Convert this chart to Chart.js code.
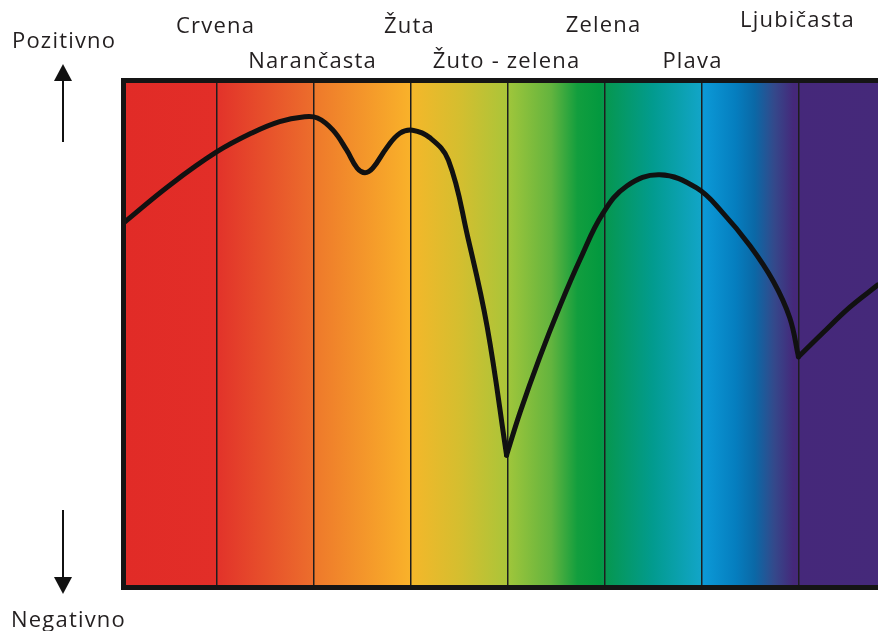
<!DOCTYPE html>
<html>
<head>
<meta charset="utf-8">
<script src="https://cdn.jsdelivr.net/npm/chart.js@4.4.1/dist/chart.umd.min.js"></script>
<style>
html,body{margin:0;padding:0;background:#fff;}
canvas{display:block;}
</style>
</head>
<body>
<canvas id="spectrum" width="878" height="631"></canvas>
<script>
// nazivi boja - stoje iznad granica pojaseva
const colorNames = ["Crvena","Narančasta","Žuta","Žuto - zelena","Zelena","Plava","Ljubičasta"];
const bandEdges = [1,2,3,4,5,6,7];
const sideLabels = ["Pozitivno","Negativno"];

// krivulja u tri dijela (oštri minimumi na granicama)
const curveA = [
  {x:0.04,y:71.9},{x:0.52,y:79.4},{x:1.0,y:85.9},{x:1.38,y:89.8},{x:1.65,y:91.9},
  {x:1.89,y:92.8},{x:2.04,y:92.6},{x:2.2,y:90.2},{x:2.34,y:86.3},{x:2.45,y:82.7},
  {x:2.53,y:81.8},{x:2.61,y:82.7},{x:2.76,y:86.9},{x:2.89,y:89.6},{x:3.02,y:90.2},
  {x:3.2,y:88.7},{x:3.39,y:84.3},{x:3.59,y:69.1},{x:3.79,y:51.4},{x:3.99,y:26.1}
];
const curveB = [
  {x:3.99,y:26.1},{x:4.13,y:34.6},{x:4.33,y:45.3},{x:4.54,y:55.5},{x:4.75,y:64.8},
  {x:4.98,y:73.7},{x:5.23,y:79.2},{x:5.57,y:81.4},{x:5.95,y:78.8},{x:6.22,y:73.9},
  {x:6.5,y:67.4},{x:6.74,y:60.4},{x:6.91,y:53.2},{x:7.0,y:45.5}
];
const curveC = [
  {x:7.0,y:45.5},{x:7.25,y:50.2},{x:7.53,y:55.3},{x:7.82,y:59.7}
];

// boje pozadine (x, boja)
const gradStops = [
  [0.04,"#e12b27"],[1.0,"#e22e28"],[1.0,"#e2322a"],[2.0,"#ec6e2c"],
  [2.0,"#ee782b"],[3.0,"#f9b22a"],[3.0,"#f5b72a"],[3.5,"#d5be2f"],[4.0,"#aac539"],
  [4.0,"#a0c63b"],[4.45,"#63b43e"],[4.72,"#129e3e"],[4.95,"#03993f"],
  [5.0,"#06974e"],[5.5,"#029b8f"],[6.0,"#12a5c8"],
  [6.0,"#0c9bd8"],[6.35,"#057ebf"],[6.55,"#0b68a6"],[6.75,"#34498b"],[6.95,"#45287a"],[7.82,"#45297a"]
];

const textColor = "#231f20";
const FONT = "22px 'Open Sans'";

function drawArrow(ctx, x, y1, y2){
  // y1 = kraj repa, y2 = vrh strelice
  const dir = y2 < y1 ? -1 : 1;
  ctx.save();
  ctx.strokeStyle = "#111"; ctx.fillStyle = "#111"; ctx.lineWidth = 2;
  ctx.beginPath(); ctx.moveTo(x, y1); ctx.lineTo(x, y2 - dir*15); ctx.stroke();
  ctx.beginPath();
  ctx.moveTo(x, y2);
  ctx.lineTo(x-9, y2 - dir*17);
  ctx.lineTo(x+9, y2 - dir*17);
  ctx.closePath(); ctx.fill();
  ctx.restore();
}

const spectrumBg = {
  id:"spectrumBg",
  beforeDraw(chart){
    const {ctx, chartArea:a, scales:{x}} = chart;
    const g = ctx.createLinearGradient(a.left, 0, a.right, 0);
    const w = a.right - a.left;
    gradStops.forEach(([v,c])=>{
      let t = (x.getPixelForValue(v) - a.left) / w;
      g.addColorStop(Math.min(1,Math.max(0,t)), c);
    });
    ctx.save();
    ctx.fillStyle = g;
    ctx.fillRect(a.left, a.top, w, a.bottom - a.top);
    ctx.restore();
  },
  afterDraw(chart){
    const {ctx, chartArea:a, scales:{x}} = chart;
    ctx.save();
    // okvir
    ctx.strokeStyle = "#151515"; ctx.lineWidth = 5;
    ctx.beginPath();
    ctx.moveTo(878, a.top); ctx.lineTo(a.left, a.top);
    ctx.lineTo(a.left, a.bottom); ctx.lineTo(878, a.bottom);
    ctx.stroke();

    // nazivi boja
    ctx.font = FONT;
    ctx.fillStyle = textColor;
    ctx.letterSpacing = "1.2px";
    ctx.textAlign = "center";
    ctx.textBaseline = "alphabetic";
    const rowY = [33,68,33,68,32,68,27];
    colorNames.forEach((name,i)=>{
      let px = x.getPixelForValue(bandEdges[i]);
      if(i === 5) px -= 8;
      ctx.fillText(name, px - 1, rowY[i]);
    });

    // pozitivno / negativno
    ctx.textAlign = "left";
    ctx.fillText(sideLabels[0], 12, 48);
    ctx.fillText(sideLabels[1], 11, 627);
    ctx.restore();

    drawArrow(ctx, 63, 142, 64);
    drawArrow(ctx, 63, 510, 594);
  }
};

const lineStyle = {
  borderColor:"#111",
  borderWidth:5,
  pointRadius:0,
  fill:false,
  tension:0.4,
  borderCapStyle:"round",
  borderJoinStyle:"round"
};

new Chart(document.getElementById("spectrum"),{
  type:"line",
  data:{
    datasets:[
      {data:curveA, ...lineStyle},
      {data:curveB, ...lineStyle},
      {data:curveC, ...lineStyle}
    ]
  },
  plugins:[spectrumBg],
  options:{
    responsive:false,
    animation:false,
    layout:{padding:{left:123.5, top:80.5, right:0, bottom:43.5}},
    plugins:{legend:{display:false}, tooltip:{enabled:false}},
    scales:{
      x:{
        type:"linear", min:0.04, max:7.82,
        afterBuildTicks(scale){ scale.ticks = bandEdges.map(v=>({value:v})); },
        ticks:{display:false},
        border:{display:false},
        grid:{color:"#1e1e1e", lineWidth:1.5, drawTicks:false}
      },
      y:{ display:false, min:0, max:100 }
    }
  }
});
</script>
</body>
</html>
